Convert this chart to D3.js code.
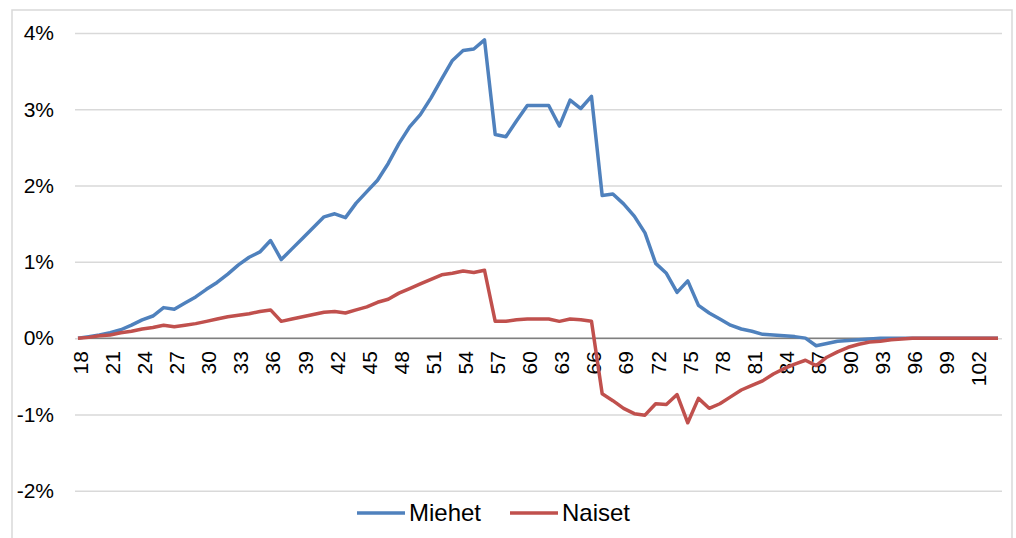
<!DOCTYPE html>
<html>
<head>
<meta charset="utf-8">
<script src="https://cdn.jsdelivr.net/npm/d3@7"></script>
<style>
  body { margin: 0; background: #fff; }
  svg { display: block; font-family: "Liberation Sans", Arial, sans-serif; }
  .axis text { fill: #000; }
  .axis .domain { display: none; }
  .grid line { stroke: #d9d9d9; stroke-width: 1.5; }
  .grid .domain { display: none; }
</style>
</head>
<body>
<div id="chart"></div>
<script>
// Ages 18..104
var ages = d3.range(18, 105);

var miehet = [
  0.00, 0.02, 0.04, 0.07, 0.11, 0.17, 0.24, 0.29, 0.40, 0.38,
  0.46, 0.54, 0.64, 0.73, 0.84, 0.96, 1.06, 1.13, 1.28, 1.03,
  1.17, 1.31, 1.45, 1.59, 1.63, 1.58, 1.77, 1.92, 2.07, 2.29,
  2.55, 2.77, 2.93, 3.15, 3.40, 3.64, 3.77, 3.79, 3.91, 2.67,
  2.64, 2.85, 3.05, 3.05, 3.05, 2.78, 3.12, 3.01, 3.17, 1.87,
  1.89, 1.76, 1.60, 1.38, 0.98, 0.85, 0.60, 0.75, 0.43, 0.33,
  0.25, 0.17, 0.12, 0.09, 0.05, 0.04, 0.03, 0.02, 0.00, -0.10,
  -0.07, -0.04, -0.03, -0.02, -0.01, 0.00, 0.00, 0.00, 0.00, 0.00,
  0.00, 0.00, 0.00, 0.00, 0.00, 0.00, 0.00
];

var naiset = [
  0.00, 0.01, 0.03, 0.04, 0.07, 0.09, 0.12, 0.14, 0.17, 0.15,
  0.17, 0.19, 0.22, 0.25, 0.28, 0.30, 0.32, 0.35, 0.37, 0.22,
  0.25, 0.28, 0.31, 0.34, 0.35, 0.33, 0.37, 0.41, 0.47, 0.51,
  0.59, 0.65, 0.71, 0.77, 0.83, 0.85, 0.88, 0.86, 0.89, 0.22,
  0.22, 0.24, 0.25, 0.25, 0.25, 0.22, 0.25, 0.24, 0.22, -0.73,
  -0.82, -0.92, -0.99, -1.01, -0.86, -0.87, -0.74, -1.11, -0.79, -0.92,
  -0.86, -0.77, -0.68, -0.62, -0.56, -0.47, -0.40, -0.34, -0.29, -0.36,
  -0.25, -0.18, -0.12, -0.08, -0.05, -0.04, -0.02, -0.01, 0.00, 0.00,
  0.00, 0.00, 0.00, 0.00, 0.00, 0.00, 0.00
];

var xTicks = ages.filter((d, i) => i % 3 === 0);
var yTicks = [-2, -1, 0, 1, 2, 3, 4];

var series = [
  { name: "Miehet", values: miehet, color: "#4f81bd" },
  { name: "Naiset", values: naiset, color: "#c0504d" }
];

var width = 1016, height = 538;
var margins = { top: 33, right: 18, bottom: 47, left: 78 };
var chartWidth = width - margins.left - margins.right;
var chartHeight = height - margins.top - margins.bottom;

var svg = d3.select("#chart")
  .append("svg")
  .attr("width", width)
  .attr("height", height);

// chart frame
svg.append("rect")
  .attr("x", 12)
  .attr("y", 10)
  .attr("width", 1000)
  .attr("height", 600)
  .attr("fill", "none")
  .attr("stroke", "#d9d9d9")
  .attr("stroke-width", 1.5);

var chartElement = svg.append("g")
  .attr("transform", `translate(${margins.left},${margins.top})`);

var xScale = d3.scalePoint()
  .domain(ages)
  .range([0, chartWidth]);

var yScale = d3.scaleLinear()
  .domain([-2, 4])
  .range([chartHeight - 0.3, 0]);

// grid
chartElement.append("g")
  .attr("class", "grid")
  .call(d3.axisLeft(yScale).tickValues(yTicks).tickSize(-chartWidth).tickFormat(""))
  .selectAll("line")
  .attr("x1", -3)
  .attr("x2", chartWidth + 4);

// y axis labels
chartElement.append("g")
  .attr("class", "axis y")
  .call(d3.axisLeft(yScale).tickValues(yTicks).tickSize(0).tickPadding(24).tickFormat(d => d + "%"))
  .selectAll("text")
  .style("font-size", "21px");

// zero line
chartElement.append("line")
  .attr("x1", 0)
  .attr("x2", chartWidth)
  .attr("y1", yScale(0))
  .attr("y2", yScale(0))
  .attr("stroke", "#7f7f7f")
  .attr("stroke-width", 1.5);

// x axis labels, rotated
var xAxisG = chartElement.append("g")
  .attr("class", "axis x")
  .attr("transform", `translate(0,${yScale(0)})`)
  .call(d3.axisBottom(xScale).tickValues(xTicks).tickSize(0));

xAxisG.selectAll("line").remove();
xAxisG.selectAll("text")
  .style("font-size", "21px")
  .attr("text-anchor", "end")
  .attr("x", -13)
  .attr("y", 2)
  .attr("dy", "0.35em")
  .attr("transform", "rotate(-90)");

// lines
var line = d3.line()
  .x((d, i) => xScale(ages[i]))
  .y(d => yScale(d));

chartElement.append("g")
  .attr("class", "lines")
  .selectAll("path")
  .data(series)
  .enter()
  .append("path")
  .attr("fill", "none")
  .attr("stroke", d => d.color)
  .attr("stroke-width", 3.5)
  .attr("stroke-linejoin", "round")
  .attr("d", d => line(d.values));

// legend
var legend = svg.append("g")
  .attr("class", "legend")
  .attr("transform", "translate(357,513)");

var legendItems = legend.selectAll("g")
  .data(series)
  .enter()
  .append("g")
  .attr("transform", (d, i) => `translate(${i * 153},0)`);

legendItems.append("line")
  .attr("x1", 0)
  .attr("x2", 48)
  .attr("stroke", d => d.color)
  .attr("stroke-width", 3.5);

legendItems.append("text")
  .attr("x", 52)
  .attr("dy", "0.35em")
  .style("font-size", "24px")
  .text(d => d.name);
</script>
</body>
</html>
